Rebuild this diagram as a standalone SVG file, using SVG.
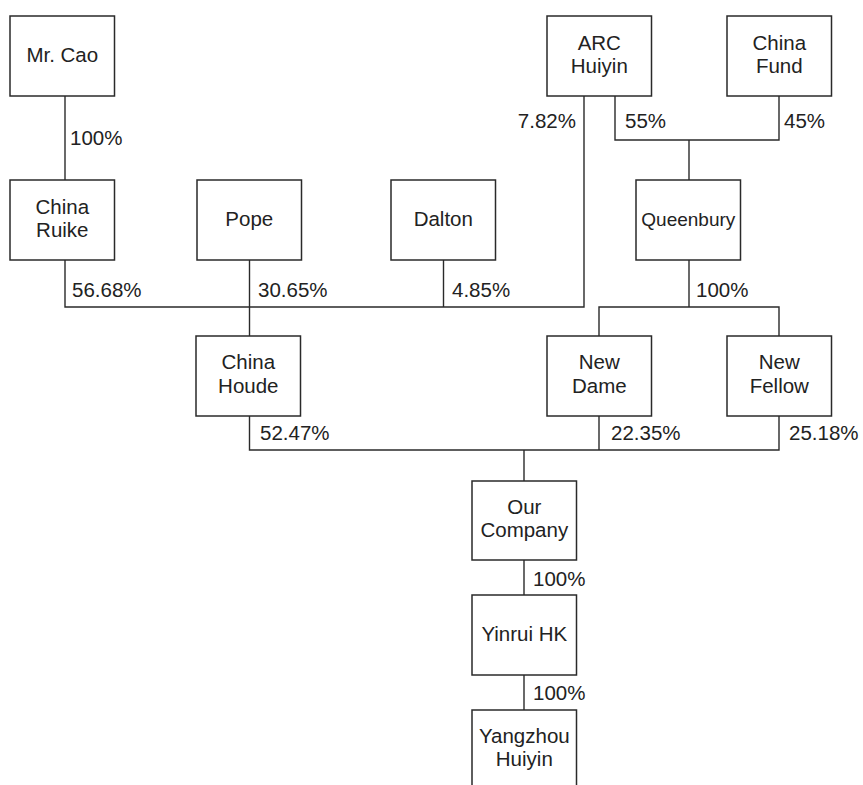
<svg xmlns="http://www.w3.org/2000/svg" width="863" height="785" viewBox="0 0 863 785">
<style>
.box{fill:#fff;stroke:#2a2a2a;stroke-width:1.5}
.t{font-family:"Liberation Sans",Arial,sans-serif;font-size:20.5px;fill:#222;text-anchor:middle}
.p{font-family:"Liberation Sans",Arial,sans-serif;font-size:20.5px;fill:#222}
.c{fill:none;stroke:#2a2a2a;stroke-width:1.4}
</style>
<rect width="863" height="785" fill="#fff"/>
<g id="connectors">
<path class="c" d="M65,96 V180"/>
<path class="c" d="M65,260 V307 H584 V96"/>
<path class="c" d="M249.5,260 V336"/>
<path class="c" d="M443.5,260 V307"/>
<path class="c" d="M615,96 V140 H779 V96"/>
<path class="c" d="M689,140 V180"/>
<path class="c" d="M689,260 V307"/>
<path class="c" d="M599,336 V307 H779 V336"/>
<path class="c" d="M249.5,416 V450 H779 V416"/>
<path class="c" d="M599,416 V450"/>
<path class="c" d="M524,450 V481"/>
<path class="c" d="M524,560 V595"/>
<path class="c" d="M524,675 V710"/>
</g>
<g id="labels">
<text class="p" x="70" y="145">100%</text>
<text class="p" x="72" y="297">56.68%</text>
<text class="p" x="258" y="297">30.65%</text>
<text class="p" x="452" y="297">4.85%</text>
<text class="p" x="576" y="128" text-anchor="end">7.82%</text>
<text class="p" x="625" y="128">55%</text>
<text class="p" x="784" y="128">45%</text>
<text class="p" x="696" y="297">100%</text>
<text class="p" x="260" y="440">52.47%</text>
<text class="p" x="611" y="440">22.35%</text>
<text class="p" x="789" y="440">25.18%</text>
<text class="p" x="533" y="586">100%</text>
<text class="p" x="533" y="700">100%</text>
</g>
<g id="mr-cao"><rect class="box" x="10" y="16" width="104.5" height="80"/><text class="t" x="62.3" y="62">Mr. Cao</text></g>
<g id="china-ruike"><rect class="box" x="10" y="180" width="104.5" height="80"/><text class="t" x="62.3" y="213.5">China</text><text class="t" x="62.3" y="236.5">Ruike</text></g>
<g id="pope"><rect class="box" x="197" y="180" width="104.5" height="80"/><text class="t" x="249.3" y="225.5">Pope</text></g>
<g id="dalton"><rect class="box" x="391" y="180" width="104.5" height="80"/><text class="t" x="443.3" y="225.5">Dalton</text></g>
<g id="arc-huiyin"><rect class="box" x="547" y="16" width="104.5" height="80"/><text class="t" x="599.3" y="49.5">ARC</text><text class="t" x="599.3" y="72.5">Huiyin</text></g>
<g id="china-fund"><rect class="box" x="727" y="16" width="104.5" height="80"/><text class="t" x="779.3" y="49.5">China</text><text class="t" x="779.3" y="72.5">Fund</text></g>
<g id="queenbury"><rect class="box" x="636" y="180" width="104.5" height="80"/><text class="t" x="688.3" y="225.5" style="font-size:19px">Queenbury</text></g>
<g id="china-houde"><rect class="box" x="196" y="336" width="104.5" height="80"/><text class="t" x="248.3" y="369">China</text><text class="t" x="248.3" y="392.5">Houde</text></g>
<g id="new-dame"><rect class="box" x="547" y="336" width="104.5" height="80"/><text class="t" x="599.3" y="369">New</text><text class="t" x="599.3" y="392.5">Dame</text></g>
<g id="new-fellow"><rect class="box" x="727" y="336" width="104.5" height="80"/><text class="t" x="779.3" y="369">New</text><text class="t" x="779.3" y="392.5">Fellow</text></g>
<g id="our-company"><rect class="box" x="472" y="481" width="104.5" height="79"/><text class="t" x="524.3" y="514">Our</text><text class="t" x="524.3" y="537">Company</text></g>
<g id="yinrui-hk"><rect class="box" x="472" y="595" width="104.5" height="80"/><text class="t" x="524.3" y="640.5">Yinrui HK</text></g>
<g id="yangzhou-huiyin"><rect class="box" x="472" y="710" width="104.5" height="90"/><text class="t" x="524.3" y="743">Yangzhou</text><text class="t" x="524.3" y="766">Huiyin</text></g>
</svg>
